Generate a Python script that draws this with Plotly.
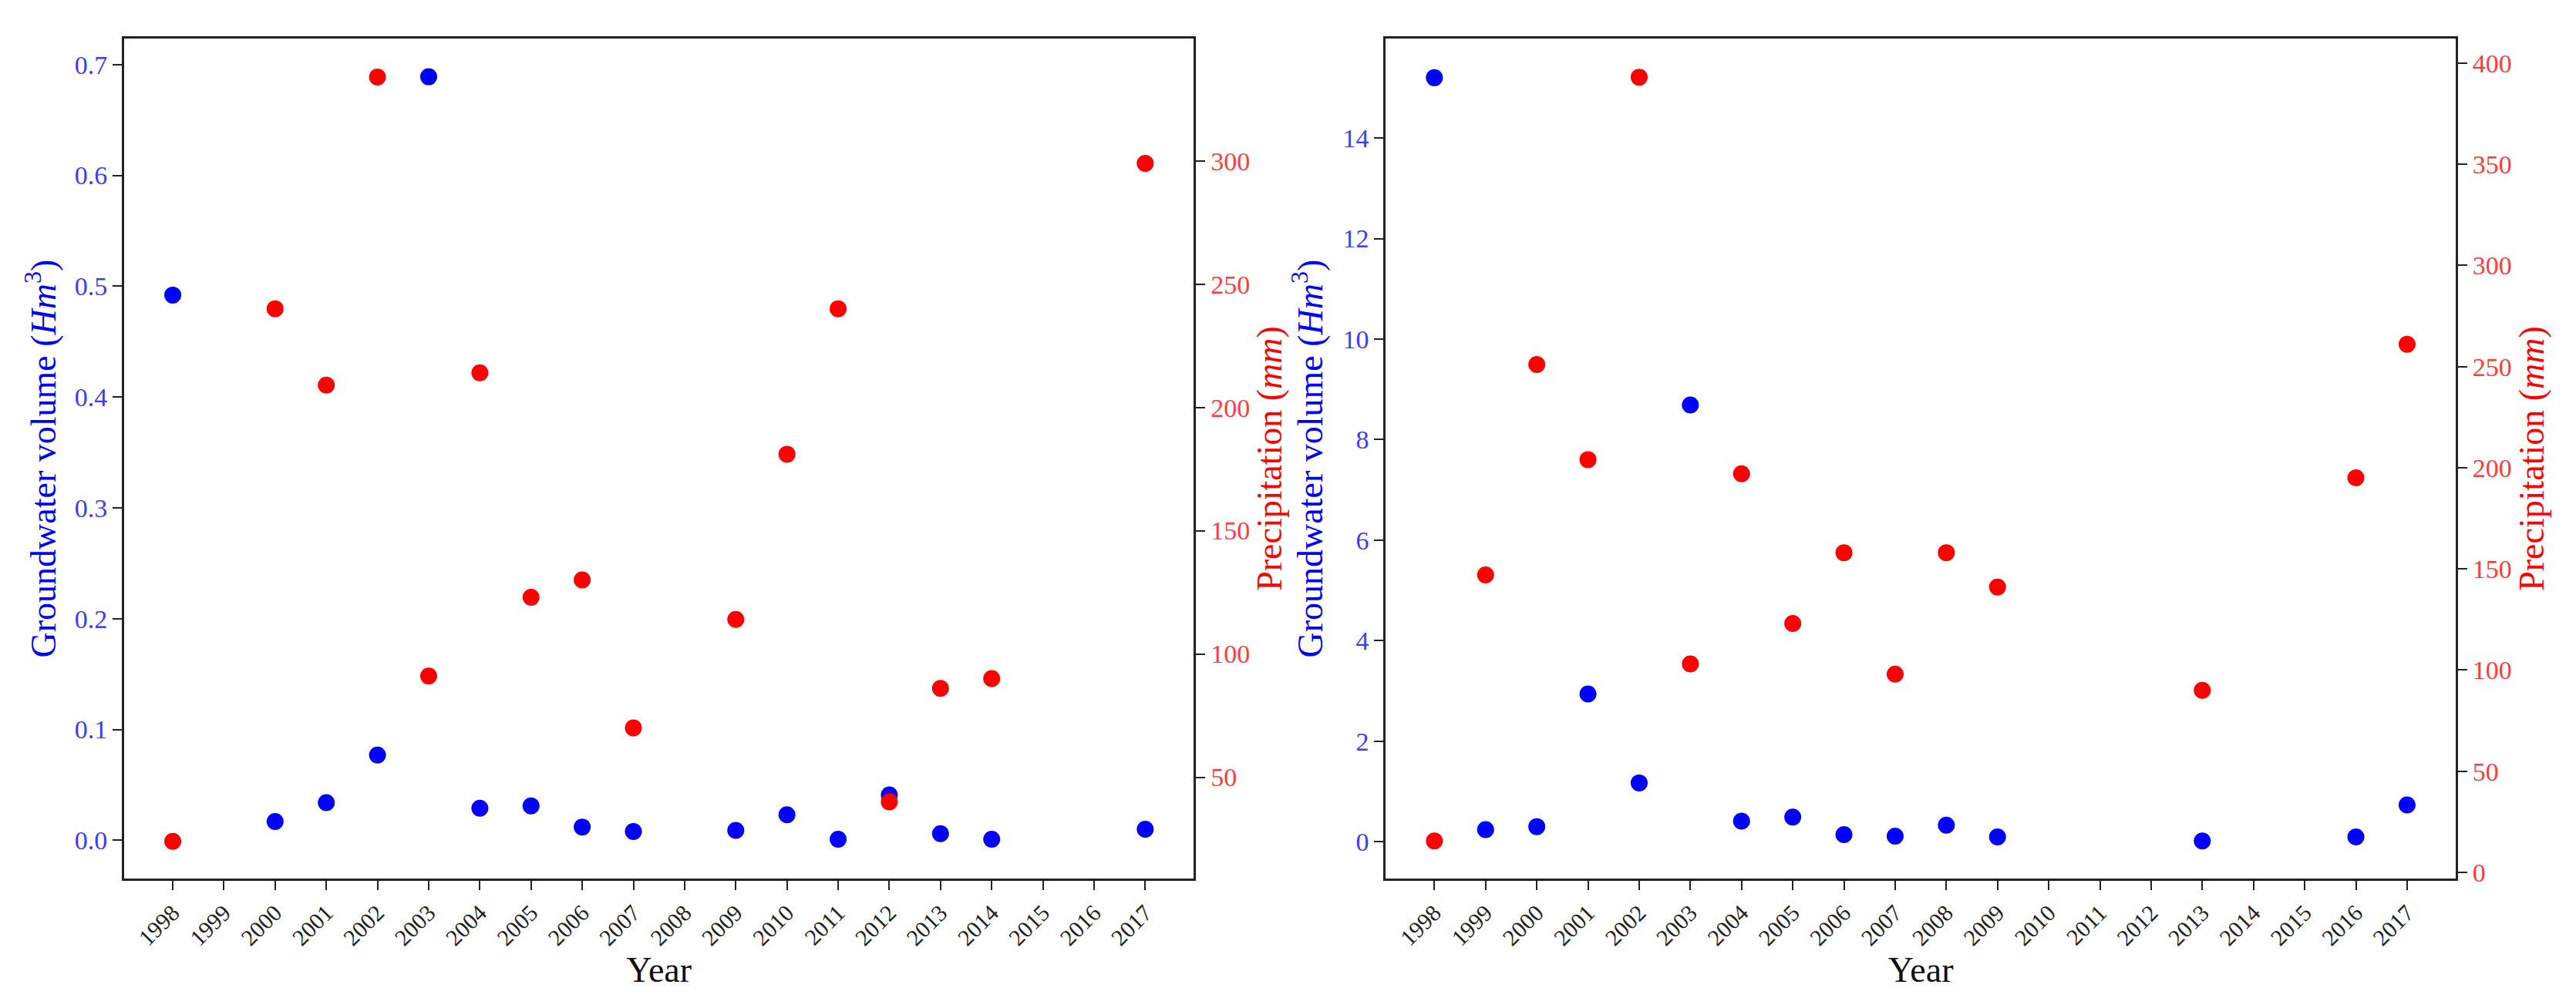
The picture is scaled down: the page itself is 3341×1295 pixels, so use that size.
import plotly.graph_objects as go

# left panel
years_l = [1998, 2000, 2001, 2002, 2003, 2004, 2005, 2006, 2007, 2009, 2010, 2011, 2012, 2013, 2014, 2017]
gw_l = [0.492, 0.017, 0.034, 0.077, 0.689, 0.029, 0.031, 0.012, 0.008, 0.009, 0.023, 0.001, 0.041, 0.006, 0.001, 0.010]
pr_l = [24, 240, 209, 334, 91, 214, 123, 130, 70, 114, 181, 240, 40, 86, 90, 299]

# right panel
years_r = [1998, 1999, 2000, 2001, 2002, 2003, 2004, 2005, 2006, 2007, 2008, 2009, 2013, 2016, 2017]
gw_r = [15.2, 0.24, 0.30, 2.94, 1.17, 8.69, 0.41, 0.49, 0.14, 0.11, 0.33, 0.095, 0.014, 0.095, 0.73]
pr_r = [15.5, 147, 251, 204, 393, 103, 197, 123, 158, 98, 158, 141, 90, 195, 261]

all_years = list(range(1998, 2018))
year_labels = [str(y) for y in all_years]

FONT = "Liberation Serif"
BLUE = "#0000ff"
RED = "#ff0000"
BLUE_TICK = "#3c3cff"
RED_TICK = "#ff3c3c"
SPINE = "#222222"

fig = go.Figure()
fig.add_trace(go.Scatter(x=years_l, y=gw_l, mode="markers", marker=dict(color=BLUE, size=22),
                         xaxis="x", yaxis="y", showlegend=False))
fig.add_trace(go.Scatter(x=years_l, y=pr_l, mode="markers", marker=dict(color=RED, size=22),
                         xaxis="x", yaxis="y2", showlegend=False))
fig.add_trace(go.Scatter(x=years_r, y=gw_r, mode="markers", marker=dict(color=BLUE, size=22),
                         xaxis="x2", yaxis="y3", showlegend=False))
fig.add_trace(go.Scatter(x=years_r, y=pr_r, mode="markers", marker=dict(color=RED, size=22),
                         xaxis="x2", yaxis="y4", showlegend=False))

common = dict(showline=True, linecolor=SPINE, linewidth=3, ticks="outside", ticklen=12,
              tickwidth=2, tickcolor=SPINE, showgrid=False, zeroline=False)

xaxis_cfg = dict(common, mirror=True, tickmode="array", tickvals=all_years, ticktext=year_labels,
                 tickangle=-45, range=[1997.05, 2017.95],
                 tickfont=dict(family=FONT, size=30, color="#222222"),
                 title=dict(text="Year", font=dict(family=FONT, size=46, color="#111111"), standoff=4))

gw_title = "Groundwater volume (<i>Hm</i><sup>3</sup>)"
pr_title = "Precipitation (<i>mm</i>)"

fig.update_layout(
    width=3341, height=1295,
    margin=dict(l=153, r=164, t=42, b=163),
    paper_bgcolor="white", plot_bgcolor="white",
    font=dict(family=FONT),
    xaxis=dict(xaxis_cfg, domain=[0, 0.4588], anchor="y"),
    xaxis2=dict(xaxis_cfg, domain=[0.5411, 1.0], anchor="y3"),
    yaxis=dict(common, anchor="x", side="left", range=[-0.0345, 0.7235], dtick=0.1, tickformat=".1f",
               tickfont=dict(family=FONT, size=34, color=BLUE_TICK),
               title=dict(text=gw_title, font=dict(family=FONT, size=46, color=BLUE), standoff=10)),
    yaxis2=dict(common, anchor="x", overlaying="y", side="right", range=[8.9, 349.6], dtick=50,
                tickfont=dict(family=FONT, size=34, color=RED_TICK),
                title=dict(text=pr_title, font=dict(family=FONT, size=46, color=RED), standoff=6)),
    yaxis3=dict(common, anchor="x2", side="left", range=[-0.733, 15.98], dtick=2,
                tickfont=dict(family=FONT, size=34, color=BLUE_TICK),
                title=dict(text=gw_title, font=dict(family=FONT, size=46, color=BLUE), standoff=12)),
    yaxis4=dict(common, anchor="x2", overlaying="y3", side="right", range=[-3.05, 412.1], dtick=50,
                tickfont=dict(family=FONT, size=34, color=RED_TICK),
                title=dict(text=pr_title, font=dict(family=FONT, size=46, color=RED), standoff=2)),
)

fig.write_html("out.html")
